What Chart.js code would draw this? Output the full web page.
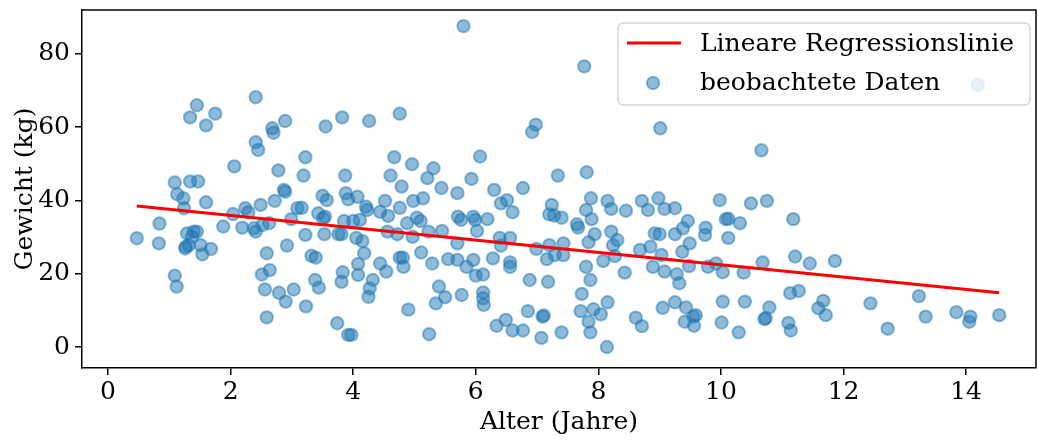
<!DOCTYPE html>
<html>
<head>
<meta charset="utf-8">
<script src="https://cdn.jsdelivr.net/npm/chart.js@4"></script>
<style>
  body { margin: 0; background: #fff; }
</style>
</head>
<body>
<canvas id="grafica" width="1038" height="443"></canvas>
<script>
// beobachtete Daten: Alter (Jahre) und Gewicht (kg)
const alter = [
  1.45,1.34,1.75,1.60,2.06,1.09,1.34,1.47,
  2.41,2.68,2.70,2.89,3.55,3.82,4.26,4.76,2.41,2.45,3.22,2.78,3.19,3.87,4.67,4.61,2.87,2.89,4.79,
  5.80,6.98,6.92,6.07,4.96,5.31,5.21,5.93,7.34,5.44,5.70,6.30,6.77,
  7.77,9.01,7.81,10.66,14.19,
  0.47,0.84,0.83,1.09,1.12,1.13,1.23,1.24,1.60,1.29,1.40,1.45,1.37,1.27,1.32,1.51,1.54,1.68,1.26,1.88,2.04,2.19,2.24,
  2.29,2.49,2.72,2.38,2.41,2.52,2.63,2.59,2.64,2.51,2.56,2.59,2.79,2.90,3.03,3.23,2.92,2.99,3.09,3.16,3.22,3.32,3.39,3.38,3.44,3.43,3.51,3.54,3.57,3.50,3.53,3.76,3.81,3.85,3.88,3.92,4.07,4.00,4.11,4.05,4.15,4.18,4.08,4.08,3.83,3.81,4.32,4.27,4.25,3.74,3.92,3.97,4.21,4.23,4.44,4.52,4.57,4.76,4.56,4.72,4.44,4.54,4.76,4.90,
  4.98,5.14,6.41,6.51,6.60,4.88,5.04,5.10,4.97,5.23,5.45,5.71,5.76,5.96,5.99,6.19,6.02,5.70,6.39,6.56,6.41,4.81,4.82,5.11,5.29,5.55,5.70,5.96,5.85,6.00,6.12,6.28,6.56,6.56,5.40,5.50,5.35,5.77,6.12,6.12,6.13,5.24,6.34,6.49,6.60,6.77,6.85,7.09,7.11,7.07,6.88,7.18,7.40,7.24,7.20,7.28,7.40,6.99,7.16,7.20,7.29,7.43,7.43,
  7.88,8.15,8.21,8.45,7.80,7.89,7.65,7.67,7.94,7.84,8.21,8.31,8.24,8.27,8.08,7.80,7.87,8.43,7.73,7.71,7.92,8.04,7.84,7.87,8.15,8.14,8.71,8.81,8.98,9.08,9.25,8.68,8.85,8.92,9.00,9.03,8.89,9.08,9.25,9.38,9.46,9.37,9.49,9.28,9.32,9.48,9.75,9.74,9.79,9.92,9.98,9.05,9.25,9.43,9.59,9.55,9.41,9.56,8.61,8.71,10.03,10.01,
  10.49,10.75,10.08,10.12,10.31,10.12,11.18,10.03,10.37,10.68,11.21,11.45,11.86,10.39,10.79,10.71,10.73,10.29,11.13,11.27,11.10,11.14,11.67,11.59,11.71,12.44,12.72,
  13.23,13.34,13.84,14.07,14.05,14.54
];
const gewicht = [
  66.0,62.7,63.7,60.5,49.3,44.9,45.2,45.2,
  68.2,59.7,58.5,61.7,60.2,62.7,61.7,63.7,55.9,53.8,51.8,48.2,46.8,46.8,51.8,46.8,42.9,42.4,43.8,
  87.6,60.7,58.7,52.0,49.9,48.8,46.1,45.9,46.8,43.4,42.0,42.9,43.4,
  76.6,59.7,47.7,53.7,71.5,
  29.7,33.7,28.3,19.5,16.5,41.7,40.6,37.9,39.5,31.0,31.5,31.5,30.1,27.4,27.8,27.8,25.3,26.8,26.9,32.9,36.3,32.6,37.9,
  36.8,38.8,39.9,32.4,31.5,33.3,33.8,25.6,21.0,19.8,15.7,8.1,14.8,12.4,15.7,11.1,27.7,34.9,37.9,38.0,30.6,24.9,24.4,18.3,16.2,36.5,35.1,35.6,40.1,41.3,30.8,30.8,30.8,34.4,42.0,40.3,41.0,34.4,34.7,29.8,28.9,25.6,22.7,19.7,20.4,17.8,18.3,16.0,13.7,6.5,3.3,3.3,38.3,37.4,36.9,39.9,35.8,38.0,31.5,30.8,22.8,20.6,24.4,10.2,
  39.9,40.6,39.2,40.1,36.8,33.8,35.3,34.4,30.1,31.5,31.7,35.6,34.7,35.6,34.7,34.9,31.7,28.3,29.8,29.8,27.7,24.4,21.9,25.8,22.8,24.0,23.8,23.8,21.9,19.5,19.8,24.2,23.1,21.9,16.5,13.6,11.9,14.2,14.9,13.3,11.5,3.5,5.8,7.4,4.5,4.5,9.8,8.3,8.6,2.5,18.3,17.8,4.0,38.8,36.2,35.9,35.3,26.8,24.0,27.8,25.1,28.3,25.1,
  40.6,39.9,37.7,37.2,37.4,34.9,33.5,32.6,30.8,28.6,31.5,29.2,27.8,24.8,23.5,21.9,18.3,20.3,14.5,9.8,10.3,8.9,6.9,4.0,12.2,0.0,39.9,37.4,40.6,37.7,37.9,26.5,27.4,31.0,30.8,25.1,21.9,20.6,30.8,32.4,34.4,26.0,28.3,19.9,17.4,22.1,32.6,30.6,21.9,22.8,40.1,10.7,12.2,10.8,8.7,8.3,6.9,5.8,8.0,5.7,12.4,6.7,
  39.2,39.9,34.9,35.0,33.8,29.8,34.9,20.4,20.3,23.1,24.7,22.8,23.5,12.4,10.8,7.6,7.9,4.0,14.7,15.3,6.6,4.5,12.6,10.6,8.7,11.9,5.0,
  13.9,8.3,9.5,8.3,6.9,8.7
];

// Regressionslinie (Endpunkte)
const regAlter = [0.47, 14.54];
const regGewicht = [38.5, 14.8];

const xTicks = [0, 2, 4, 6, 8, 10, 12, 14];
const yTicks = [0, 20, 40, 60, 80];
const etiquetas = ["Lineare Regressionslinie", "beobachtete Daten"];

const schrift = '"DejaVu Serif", serif';
const groesse = 25;
const blau = 'rgba(31,119,180,0.5)';

// Rahmen oben und rechts
const rahmen = {
  id: 'rahmen',
  afterDraw(chart) {
    const { ctx, chartArea: a } = chart;
    ctx.save();
    ctx.strokeStyle = '#000';
    ctx.lineWidth = 1.5;
    ctx.beginPath();
    ctx.moveTo(a.left, a.top);
    ctx.lineTo(a.right, a.top);
    ctx.lineTo(a.right, a.bottom);
    ctx.stroke();
    ctx.restore();
  }
};

// Legende innerhalb des Plotbereichs (oben rechts)
const legende = {
  id: 'legende',
  afterDraw(chart) {
    const { ctx, chartArea: a } = chart;
    const w = 412, h = 82;
    const x = a.right - 6 - w, y = a.top + 13;
    ctx.save();
    ctx.beginPath();
    ctx.roundRect(x, y, w, h, 5);
    ctx.fillStyle = 'rgba(255,255,255,0.8)';
    ctx.fill();
    ctx.strokeStyle = 'rgba(204,204,204,0.8)';
    ctx.lineWidth = 1.5;
    ctx.stroke();

    ctx.strokeStyle = 'red';
    ctx.lineWidth = 3;
    ctx.beginPath();
    ctx.moveTo(x + 9, y + 20);
    ctx.lineTo(x + 63, y + 20);
    ctx.stroke();

    ctx.beginPath();
    ctx.arc(x + 35, y + 60, 6.2, 0, Math.PI * 2);
    ctx.fillStyle = blau;
    ctx.fill();
    ctx.strokeStyle = blau;
    ctx.lineWidth = 2;
    ctx.stroke();

    ctx.fillStyle = '#000';
    ctx.font = groesse + 'px ' + schrift;
    ctx.textBaseline = 'middle';
    ctx.fillText(etiquetas[0], x + 82, y + 21);
    ctx.fillText(etiquetas[1], x + 82, y + 60);
    ctx.restore();
  }
};

const puntos = alter.map((a, i) => ({ x: a, y: gewicht[i] }));
const linea = regAlter.map((a, i) => ({ x: a, y: regGewicht[i] }));

new Chart(document.getElementById('grafica'), {
  type: 'scatter',
  data: {
    datasets: [
      {
        type: 'line',
        label: etiquetas[0],
        data: linea,
        borderColor: 'red',
        borderWidth: 3,
        pointRadius: 0,
        fill: false
      },
      {
        label: etiquetas[1],
        data: puntos,
        backgroundColor: blau,
        borderColor: blau,
        borderWidth: 2,
        pointRadius: 6.2,
        pointHoverRadius: 6.2
      }
    ]
  },
  options: {
    responsive: false,
    animation: false,
    layout: { autoPadding: false, padding: { top: 10, right: 2, left: 0, bottom: 0 } },
    plugins: { legend: { display: false }, tooltip: { enabled: false } },
    scales: {
      x: {
        type: 'linear',
        min: -0.424,
        max: 15.14,
        afterBuildTicks: (s) => { s.ticks = xTicks.map(v => ({ value: v })); },
        afterFit: (s) => { s.height = 75; s.paddingLeft = 0; s.paddingRight = 0; },
        grid: { display: true, drawOnChartArea: false, drawTicks: true, tickLength: 7, color: '#000', lineWidth: 1.5 },
        border: { display: true, color: '#000', width: 1.5 },
        ticks: { color: '#000', padding: 2, font: { family: schrift, size: groesse } },
        title: { display: true, text: 'Alter (Jahre)', color: '#000', padding: { top: 0, bottom: 6 }, font: { family: schrift, size: groesse } }
      },
      y: {
        type: 'linear',
        min: -5.73,
        max: 92.0,
        afterBuildTicks: (s) => { s.ticks = yTicks.map(v => ({ value: v })); },
        afterFit: (s) => { s.width = 82; s.paddingTop = 0; s.paddingBottom = 0; },
        grid: { display: true, drawOnChartArea: false, drawTicks: true, tickLength: 7, color: '#000', lineWidth: 1.5 },
        border: { display: true, color: '#000', width: 1.5 },
        ticks: { color: '#000', padding: 5, font: { family: schrift, size: groesse } },
        title: { display: true, text: 'Gewicht (kg)', color: '#000', padding: { top: 10, bottom: 0 }, font: { family: schrift, size: groesse } }
      }
    }
  },
  plugins: [rahmen, legende]
});
</script>
</body>
</html>
